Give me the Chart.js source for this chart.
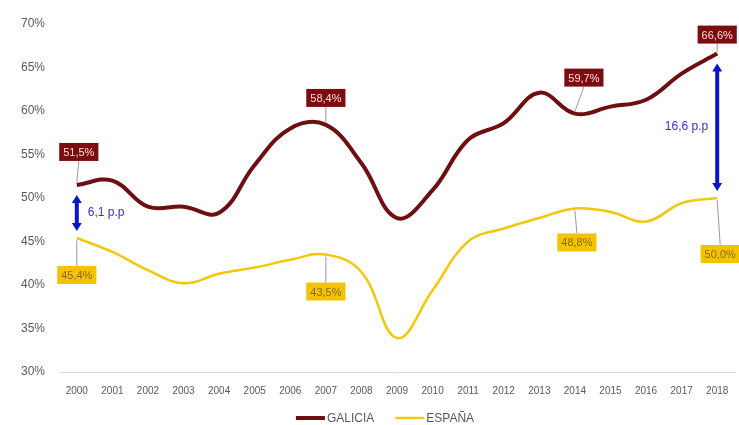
<!DOCTYPE html>
<html>
<head>
<meta charset="utf-8">
<script src="https://cdn.jsdelivr.net/npm/chart.js@4.4.1/dist/chart.umd.min.js"></script>
<style>
  html, body { margin: 0; padding: 0; background: #fff; }
  #wrap { width: 739px; height: 425px; }
</style>
</head>
<body>
<div id="wrap"><canvas id="c"></canvas></div>
<script>
// ─── Data ───────────────────────────────────────────────
const years = ['2000','2001','2002','2003','2004','2005','2006','2007','2008','2009',
               '2010','2011','2012','2013','2014','2015','2016','2017','2018'];
const galicia = [51.5, 52.0, 49.0, 49.0, 48.3, 53.8, 58.0, 58.4, 54.0, 47.7,
                 50.9, 56.7, 58.6, 62.1, 59.7, 60.5, 61.3, 64.3, 66.6];
const espana  = [45.4, 43.8, 41.7, 40.2, 41.3, 42.0, 42.9, 43.5, 41.5, 33.9,
                 39.4, 45.0, 46.5, 47.7, 48.8, 48.4, 47.3, 49.4, 50.0];
const labelYears = [0, 7, 14, 18];          // which points get a value box
const gapYears = [0, 18];                    // where the p.p difference is shown
const gapText = ['6,1 p.p', '16,6 p.p'];

const FONT = '"Liberation Sans", Arial, sans-serif';
const fmtPct = v => v.toFixed(1).replace('.', ',') + '%';

// value boxes with leader lines
const boxPlugin = {
  id: 'boxes',
  afterDatasetsDraw(chart) {
    const ctx = chart.ctx, x = chart.scales.x, y = chart.scales.y;
    ctx.save();
    ctx.font = '11px ' + FONT;
    ctx.textAlign = 'center';
    ctx.textBaseline = 'middle';
    const draw = (i, val, dy, dx, bg, fg) => {
      const px = x.getPixelForValue(i), py = y.getPixelForValue(val);
      const txt = fmtPct(val);
      const w = ctx.measureText(txt).width + 8, h = 18;
      const cx = px + dx, cy = py + dy;
      ctx.strokeStyle = '#9a9a9a'; ctx.lineWidth = 1;
      ctx.beginPath();
      ctx.moveTo(px, py + (dy < 0 ? -2 : 2));
      ctx.lineTo(cx, cy + (dy < 0 ? h / 2 : -h / 2));
      ctx.stroke();
      ctx.fillStyle = bg;
      ctx.fillRect(cx - w / 2, cy - h / 2, w, h);
      ctx.fillStyle = fg;
      ctx.fillText(txt, cx, cy + 1);
    };
    const gOff = { 0: [-33, 2], 7: [-27, 0], 14: [-36, 9], 18: [-19, 0] };
    const eOff = { 0: [37, 0], 7: [37, 0], 14: [34, 2], 18: [56, 3] };
    labelYears.forEach(i => {
      draw(i, galicia[i], gOff[i][0], gOff[i][1], '#7b0d10', '#ffd9d9');
      draw(i, espana[i], eOff[i][0], eOff[i][1], '#f4c300', '#8a6a00');
    });
    ctx.restore();
  }
};

// blue double arrows for the gap
const arrowPlugin = {
  id: 'arrows',
  afterDatasetsDraw(chart) {
    const ctx = chart.ctx, x = chart.scales.x, y = chart.scales.y;
    ctx.save();
    gapYears.forEach((i, k) => {
      const px = x.getPixelForValue(i);
      const top = y.getPixelForValue(galicia[i]) + 10;
      const bot = y.getPixelForValue(espana[i]) - 7;
      ctx.strokeStyle = '#0a14c8'; ctx.fillStyle = '#0a14c8';
      ctx.lineWidth = 4;
      ctx.beginPath(); ctx.moveTo(px, top + 6); ctx.lineTo(px, bot - 6); ctx.stroke();
      ctx.beginPath(); ctx.moveTo(px, top); ctx.lineTo(px - 5, top + 8); ctx.lineTo(px + 5, top + 8); ctx.closePath(); ctx.fill();
      ctx.beginPath(); ctx.moveTo(px, bot); ctx.lineTo(px - 5, bot - 8); ctx.lineTo(px + 5, bot - 8); ctx.closePath(); ctx.fill();
      ctx.font = '12px ' + FONT;
      ctx.fillStyle = '#3333c4';
      ctx.textBaseline = 'middle';
      const mid = (top + bot) / 2;
      if (i === 0) { ctx.textAlign = 'left'; ctx.fillText(gapText[k], px + 11, mid); }
      else { ctx.textAlign = 'right'; ctx.fillText(gapText[k], px - 9, mid - 1); }
    });
    ctx.restore();
  }
};

// legend drawn by hand so it can sit low under the axis
const legendPlugin = {
  id: 'bottomLegend',
  afterDraw(chart) {
    const ctx = chart.ctx;
    const ds = chart.data.datasets;
    ctx.save();
    ctx.font = '12px ' + FONT;
    ctx.textBaseline = 'middle';
    ctx.textAlign = 'left';
    const lineW = 29, gap = 2, between = 21;
    const widths = ds.map(d => lineW + gap + ctx.measureText(d.label).width);
    const total = widths.reduce((a, b) => a + b, 0) + between * (ds.length - 1);
    let xPos = 385 - total / 2;
    const yPos = 418;
    ds.forEach((d, i) => {
      ctx.strokeStyle = d.borderColor;
      ctx.lineWidth = i === 0 ? 4 : 2.5;
      ctx.beginPath(); ctx.moveTo(xPos, yPos); ctx.lineTo(xPos + lineW, yPos); ctx.stroke();
      ctx.fillStyle = '#595959';
      ctx.fillText(d.label, xPos + lineW + gap, yPos + 1);
      xPos += widths[i] + between;
    });
    ctx.restore();
  }
};

new Chart(document.getElementById('c'), {
  type: 'line',
  data: {
    labels: years,
    datasets: [
      { label: 'GALICIA', data: galicia, borderColor: '#6e0e11', backgroundColor: '#6e0e11',
        borderWidth: 4, tension: 0.4, pointRadius: 0 },
      { label: 'ESPAÑA', data: espana, borderColor: '#f1c80c', backgroundColor: '#f1c80c',
        borderWidth: 2.5, tension: 0.4, pointRadius: 0 }
    ]
  },
  options: {
    responsive: true, maintainAspectRatio: false, animation: false,
    layout: { padding: { top: 24, right: 4, left: 15, bottom: 23 } },
    plugins: {
      tooltip: { enabled: false },
      legend: { display: false }
    },
    scales: {
      x: {
        offset: true,
        grid: { display: false },
        border: { color: '#d9d9d9' },
        ticks: { color: '#595959', font: { size: 10, family: FONT }, padding: 5 }
      },
      y: {
        min: 30, max: 70,
        grid: { display: false },
        border: { display: false },
        ticks: { stepSize: 5, color: '#595959', padding: 6,
                 font: { size: 12, family: FONT },
                 callback: v => v + '%' }
      }
    }
  },
  plugins: [boxPlugin, arrowPlugin, legendPlugin]
});
</script>
</body>
</html>
